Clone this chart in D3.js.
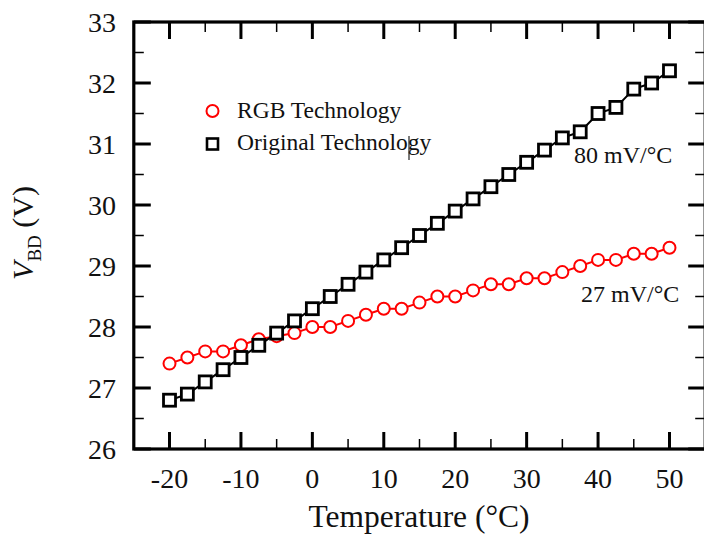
<!DOCTYPE html>
<html>
<head>
<meta charset="utf-8">
<script src="https://cdn.jsdelivr.net/npm/d3@7"></script>
<style>
  html, body { margin: 0; padding: 0; background: #fff; }
  svg { display: block; }
  text { font-family: "Liberation Serif", "Times New Roman", serif; fill: #111; }
</style>
</head>
<body>
<svg id="chart" width="704" height="535"></svg>
<script>
// ---- data ----
const temperatures = [-20, -17.5, -15, -12.5, -10, -7.5, -5, -2.5, 0, 2.5, 5, 7.5, 10, 12.5, 15, 17.5, 20, 22.5, 25, 27.5, 30, 32.5, 35, 37.5, 40, 42.5, 45, 47.5, 50];
const rgbValues = [27.4, 27.5, 27.6, 27.6, 27.7, 27.8, 27.85, 27.9, 28.0, 28.0, 28.1, 28.2, 28.3, 28.3, 28.4, 28.5, 28.5, 28.6, 28.7, 28.7, 28.8, 28.8, 28.9, 29.0, 29.1, 29.1, 29.2, 29.2, 29.3];
const originalValues = [26.8, 26.9, 27.1, 27.3, 27.5, 27.7, 27.9, 28.1, 28.3, 28.5, 28.7, 28.9, 29.1, 29.3, 29.5, 29.7, 29.9, 30.1, 30.3, 30.5, 30.7, 30.9, 31.1, 31.2, 31.5, 31.6, 31.9, 32.0, 32.2];
const xTickValues = [-20, -10, 0, 10, 20, 30, 40, 50];
const xMinorTicks = [-25, -15, -5, 5, 15, 25, 35, 45];
const yTickValues = [26, 27, 28, 29, 30, 31, 32, 33];
const yMinorTicks = [26.5, 27.5, 28.5, 29.5, 30.5, 31.5, 32.5];
const seriesNames = ["RGB Technology", "Original Technology"];
const slopeLabels = ["27 mV/°C", "80 mV/°C"];
const xTitle = "Temperature (°C)";

// ---- layout ----
(function () {
const svg = d3.select("#chart");
const x = d3.scaleLinear().domain([-25, 55]).range([133.8, 705.2]);
const y = d3.scaleLinear().domain([26, 33]).range([449, 22]);
const pL = x.range()[0], pR = x.range()[1], pT = y.range()[1], pB = y.range()[0];

const majorLen = 17, minorLen = 10;
const g = svg.append("g");

// ticks (inward on all four sides)
function tickLines(vals, len, width, side) {
  const horiz = side === "bottom" || side === "top";
  g.selectAll(null).data(vals).enter().append("line")
    .attr("x1", d => horiz ? x(d) : (side === "left" ? pL : pR))
    .attr("x2", d => horiz ? x(d) : (side === "left" ? pL + len : pR - len))
    .attr("y1", d => !horiz ? y(d) : (side === "bottom" ? pB : pT))
    .attr("y2", d => !horiz ? y(d) : (side === "bottom" ? pB - len : pT + len))
    .attr("stroke", "#000").attr("stroke-width", width);
}
["bottom", "top"].forEach(s => { tickLines(xTickValues, majorLen, 3, s); tickLines(xMinorTicks, minorLen, 1.5, s); });
["left", "right"].forEach(s => { tickLines(yTickValues, majorLen, 3, s); tickLines(yMinorTicks, minorLen, 1.5, s); });

// frame
g.append("rect").attr("x", pL).attr("y", pT).attr("width", pR - pL).attr("height", pB - pT)
  .attr("fill", "none").attr("stroke", "#000").attr("stroke-width", 3.2);

// tick labels
g.selectAll(null).data(xTickValues).enter().append("text")
  .attr("x", d => x(d)).attr("y", 488).attr("text-anchor", "middle")
  .attr("font-size", 28).text(d => d);
g.selectAll(null).data(yTickValues).enter().append("text")
  .attr("x", 116).attr("y", d => y(d) + 10).attr("text-anchor", "end")
  .attr("font-size", 28).text(d => d);

// axis titles
g.append("text").attr("x", 419).attr("y", 527).attr("text-anchor", "middle")
  .attr("font-size", 31.5).text(xTitle);
const yt = g.append("text").attr("transform", "translate(33,233) rotate(-90)")
  .attr("text-anchor", "middle").attr("font-size", 30);
yt.append("tspan").attr("font-style", "italic").text("V");
yt.append("tspan").attr("font-size", 19).attr("dy", 8).text("BD");
yt.append("tspan").attr("dy", -8).text(" (V)");

// lines
const line = vals => d3.line().x((d, i) => x(temperatures[i])).y(d => y(d))(vals);
g.append("path").attr("d", line(rgbValues)).attr("fill", "none").attr("stroke", "#ff0000").attr("stroke-width", 2);
g.append("path").attr("d", line(originalValues)).attr("fill", "none").attr("stroke", "#000").attr("stroke-width", 2);

// markers
g.selectAll(null).data(rgbValues).enter().append("circle")
  .attr("cx", (d, i) => x(temperatures[i])).attr("cy", d => y(d)).attr("r", 6)
  .attr("fill", "#fff").attr("stroke", "#ff0000").attr("stroke-width", 2);
const sq = 12;
g.selectAll(null).data(originalValues).enter().append("rect")
  .attr("x", (d, i) => x(temperatures[i]) - sq / 2).attr("y", d => y(d) - sq / 2)
  .attr("width", sq).attr("height", sq)
  .attr("fill", "#fff").attr("stroke", "#000").attr("stroke-width", 2.8);

// legend
g.append("circle").attr("cx", 212.5).attr("cy", 111).attr("r", 6)
  .attr("fill", "#fff").attr("stroke", "#ff0000").attr("stroke-width", 2);
g.append("rect").attr("x", 212.5 - 5.5).attr("y", 144 - 5.5).attr("width", 11).attr("height", 11)
  .attr("fill", "#fff").attr("stroke", "#000").attr("stroke-width", 2.6);
g.append("text").attr("x", 237).attr("y", 118).attr("font-size", 23.5).text(seriesNames[0]);
g.append("text").attr("x", 237).attr("y", 150).attr("font-size", 23.5).text(seriesNames[1]);
// text cursor artefact in legend
g.append("line").attr("x1", 409).attr("x2", 409).attr("y1", 136).attr("y2", 160)
  .attr("stroke", "#222").attr("stroke-width", 1.2);

// slope annotations
g.append("text").attr("x", 581).attr("y", 302).attr("font-size", 24).text(slopeLabels[0]);
g.append("text").attr("x", 574).attr("y", 163).attr("font-size", 24).text(slopeLabels[1]);
})();
</script>
</body>
</html>
